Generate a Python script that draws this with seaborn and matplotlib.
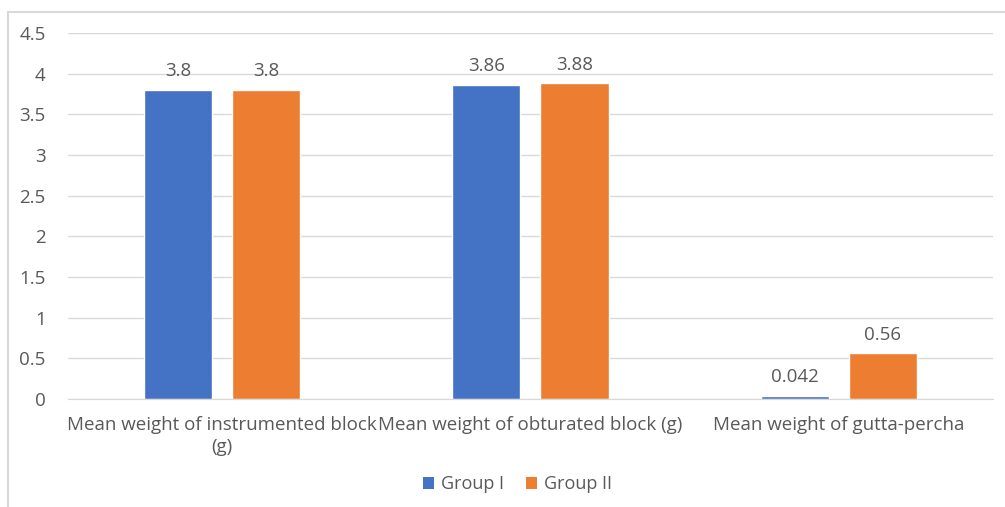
import pandas as pd
import seaborn as sns
import matplotlib.pyplot as plt
from matplotlib.lines import Line2D
from matplotlib.patches import Patch

# Chart data
categories = ['Mean weight of instrumented block\n(g)',
              'Mean weight of obturated block (g)',
              'Mean weight of gutta-percha']
groups = ['Group I', 'Group II']
group1_values = [3.8, 3.86, 0.042]
group2_values = [3.8, 3.88, 0.56]
value_labels = {'Group I': ['3.8', '3.86', '0.042'],
                'Group II': ['3.8', '3.88', '0.56']}
y_ticks = [0, 0.5, 1, 1.5, 2, 2.5, 3, 3.5, 4, 4.5]
colors = {'Group I': '#4472C4', 'Group II': '#ED7D31'}

df = pd.DataFrame({
    'Category': categories * 2,
    'Group': [groups[0]] * 3 + [groups[1]] * 3,
    'Value': group1_values + group2_values,
})

sns.set_style('white')
plt.rcParams['font.family'] = ['Open Sans', 'DejaVu Sans']
text_col = '#595959'
fs = 13.5

fig = plt.figure(figsize=(10.05, 5.07), dpi=100)
ax = fig.add_axes([0.0677, 0.213, 0.9203, 0.722])

sns.barplot(data=df, x='Category', y='Value', hue='Group', palette=colors,
            width=0.571, gap=0.227, legend=False, ax=ax, saturation=1,
            order=categories, hue_order=groups)

# Data labels above bars
for cont, g in zip(ax.containers, groups):
    ax.bar_label(cont, labels=value_labels[g], padding=7,
                 fontsize=fs, color=text_col)

ax.set_ylim(0, 4.5)
ax.set_xlim(-0.5, 2.5)
ax.set_yticks(y_ticks)
ax.set_yticklabels([f'{t:g}' for t in y_ticks])
ax.yaxis.grid(True, color='#d9d9d9', linewidth=1)
ax.set_axisbelow(True)
for s in ['top', 'right', 'left']:
    ax.spines[s].set_visible(False)
ax.spines['bottom'].set_color('#d9d9d9')
ax.tick_params(axis='both', length=0, colors=text_col, labelsize=fs)
ax.tick_params(axis='y', pad=16)
ax.tick_params(axis='x', pad=12)
for lbl in ax.get_xticklabels():
    lbl.set_linespacing(1.3)
ax.set_xlabel('')
ax.set_ylabel('')

# Legend at the bottom
handles = [Patch(facecolor=colors[g], edgecolor='none') for g in groups]
leg = fig.legend(handles, groups, loc='center', bbox_to_anchor=(0.515, 0.045),
                 ncol=2, frameon=False, fontsize=13, handlelength=0.6,
                 handleheight=0.6, handletextpad=0.4, columnspacing=1.2)
for t in leg.get_texts():
    t.set_color(text_col)

# Chart border (top and left edges visible)
fig.add_artist(Line2D([0.0075, 1.0], [0.977, 0.977], color='#d9d9d9',
                      linewidth=1.5, transform=fig.transFigure))
fig.add_artist(Line2D([0.0075, 0.0075], [0.0, 0.977], color='#d9d9d9',
                      linewidth=1.5, transform=fig.transFigure))

fig.savefig('out.png', dpi=100)
